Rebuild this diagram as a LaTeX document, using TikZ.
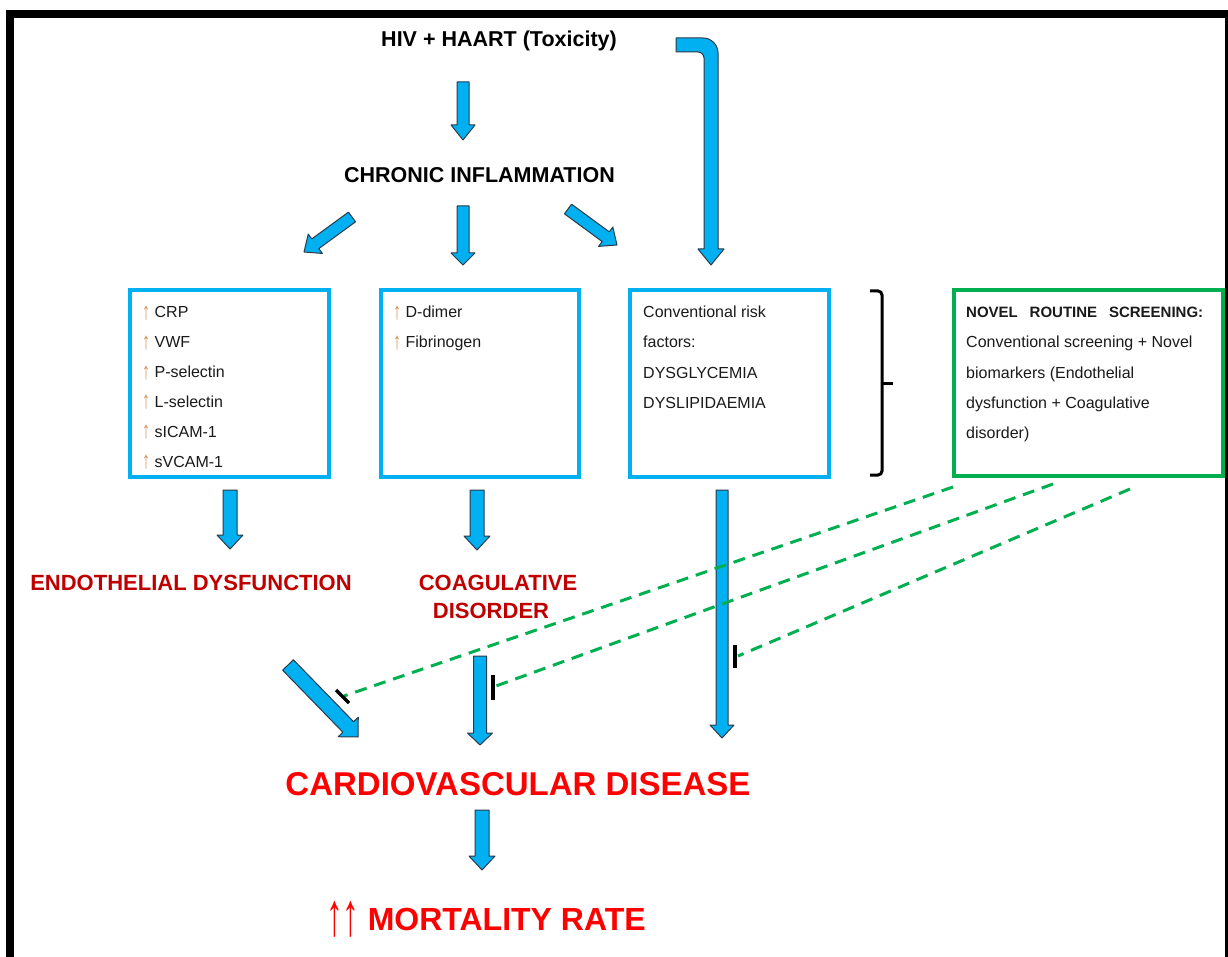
\documentclass[tikz,border=0pt]{standalone}
\usepackage{fontspec}
\setmainfont{Liberation Sans}
\usetikzlibrary{calc}
\definecolor{arrblue}{HTML}{00B0F0}
\definecolor{arredge}{HTML}{2B3A4A}
\definecolor{boxblue}{HTML}{00B0F0}
\definecolor{boxgreen}{HTML}{00B050}
\definecolor{darkred}{HTML}{C00000}
\definecolor{brightred}{HTML}{FF0000}
\definecolor{uparr}{HTML}{D98E4A}
\definecolor{txt}{HTML}{1A1A1A}
% block arrow: tail, tip, shaft half width, head half width, head length
\newcommand{\barw}[5]{%
  \coordinate (barwH) at ($(#2)!#5!(#1)$);
  \draw[blkarrow] ($(#1)!#3!90:(#2)$) -- ($(barwH)!#3!-90:(#1)$) -- ($(barwH)!#4!-90:(#1)$) -- (#2) -- ($(barwH)!#4!90:(#1)$) -- ($(barwH)!#3!90:(#1)$) -- ($(#1)!#3!-90:(#2)$) -- cycle;}
\newcommand{\uparw}{{\color{uparr}\raisebox{-1.5pt}{\scalebox{1}[1.5]{↑}}}}
\newcommand{\bigup}{\raisebox{-5pt}{\scalebox{1.05}[1.9]{↑}}}
\begin{document}
\begin{tikzpicture}[x=1pt,y=-1pt,
  blkarrow/.style={fill=arrblue,draw=arredge,line width=1pt,line join=round},
  bbox/.style={draw=boxblue,line width=4pt,outer sep=0pt,inner sep=0pt,anchor=north west},
  gbox/.style={draw=boxgreen,line width=4pt,outer sep=0pt,inner sep=0pt,anchor=north west},
  btxt/.style={anchor=base west,inner sep=0pt,text=txt,font=\fontsize{16}{19}\selectfont},
  head/.style={anchor=base,inner sep=0pt,text=black,font=\bfseries\fontsize{21.5}{24}\selectfont},
  redhead/.style={anchor=base,inner sep=0pt,text=darkred,font=\bfseries\fontsize{22}{28}\selectfont,align=center},
  inhib/.style={draw=boxgreen,line width=3pt,dash pattern=on 12pt off 8pt},
  stopbar/.style={draw=black,line width=3.5pt}]
\useasboundingbox (0,0) rectangle (1228,957);
\clip (0,0) rectangle (1228,957);
\fill[white] (0,0) rectangle (1228,957);
% frame
\draw[line width=8pt] (10,14) rectangle (1229,1000);

% headings
\node[head] (hiv) at (499,47) {HIV + HAART (Toxicity)};
\node[head] (chr) at (479.5,183) {CHRONIC INFLAMMATION};

% boxes
\node[bbox,minimum width=199pt,minimum height=187pt] (b1) at (130,290) {};
\node[bbox,minimum width=198pt,minimum height=187pt] (b2) at (381,290) {};
\node[bbox,minimum width=199pt,minimum height=187pt] (b3) at (630,290) {};
\node[gbox,minimum width=269pt,minimum height=186pt] (g) at (954,290) {};

% box texts
\foreach \t [count=\i] in {CRP,VWF,P-selectin,L-selectin,sICAM-1,sVCAM-1}
  \node[btxt] (b1l\i) at (142,{318+29.8*(\i-1)}) {\uparw\ \t};
\node[btxt] (b2l1) at (393,318) {\uparw\ D-dimer};
\node[btxt] (b2l2) at (393,348) {\uparw\ Fibrinogen};
\node[btxt] (b3l1) at (643,318) {Conventional risk};
\node[btxt] (b3l2) at (643,348) {factors:};
\node[btxt] (b3l3) at (643,378) {DYSGLYCEMIA};
\node[btxt] (b3l4) at (643,408) {DYSLIPIDAEMIA};
\node[btxt,font=\bfseries\fontsize{15}{18}\selectfont] (gl1) at (966,318) {\makebox[237pt][s]{NOVEL\hfill ROUTINE\hfill SCREENING:}};
\node[btxt] (gl2) at (966,348) {Conventional screening + Novel};
\node[btxt] (gl3) at (966,378) {biomarkers (Endothelial};
\node[btxt] (gl4) at (966,408) {dysfunction + Coagulative};
\node[btxt] (gl5) at (966,438) {disorder)};

% bracket
\draw[line width=3pt,rounded corners=4pt] (870,291) -| (882,383);
\draw[line width=3pt,rounded corners=4pt] (870,475) -| (882,383);
\draw[line width=3pt] (882,383) -- (893,383);

% red labels
\node[redhead] (endo) at (191,590) {ENDOTHELIAL DYSFUNCTION};
\node[redhead] (coag) at (498,590) {COAGULATIVE};
\node[redhead] (diso) at (491,618) {DISORDER};
\node[anchor=base,inner sep=0pt,text=brightred,font=\bfseries\fontsize{33}{36}\selectfont] (cvd) at (518,795) {CARDIOVASCULAR DISEASE};
\node[anchor=base,inner sep=0pt,text=brightred,font=\bfseries\fontsize{32}{34}\selectfont] (mort) at (486,930) {\bigup\hspace{-1pt}\bigup\ MORTALITY RATE};

% arrow coordinates
\coordinate (a1t) at (463,82);  \coordinate (a1h) at (463,140);
\coordinate (a2t) at (463,206); \coordinate (a2h) at (463,265);
\coordinate (a3t) at (352,217); \coordinate (a3h) at (304,252);
\coordinate (a4t) at (568,209); \coordinate (a4h) at (617,245);
\coordinate (a5t) at (230,490); \coordinate (a5h) at (230,549);
\coordinate (a6t) at (477,490); \coordinate (a6h) at (477,550);
\coordinate (a7t) at (722,490); \coordinate (a7h) at (722,738);
\coordinate (a8t) at (288,665); \coordinate (a8h) at (358,737);
\coordinate (a9t) at (480,656); \coordinate (a9h) at (480,745);
\coordinate (a10t) at (482,810); \coordinate (a10h) at (482,870);

\barw{a1t}{a1h}{6pt}{12pt}{15pt}
\barw{a2t}{a2h}{6pt}{12pt}{12pt}
\barw{a3t}{a3h}{6pt}{12pt}{14pt}
\barw{a4t}{a4h}{6pt}{12pt}{14pt}
\barw{a5t}{a5h}{7pt}{13pt}{14pt}
\barw{a6t}{a6h}{7pt}{13pt}{14pt}
\barw{a7t}{a7h}{6pt}{12pt}{13pt}
\barw{a8t}{a8h}{7.5pt}{14pt}{14pt}
\barw{a9t}{a9h}{6.5pt}{12.5pt}{12pt}
\barw{a10t}{a10h}{7pt}{13pt}{14pt}

% bent arrow
\draw[blkarrow] (676,38) -- (703,38) .. controls (711.3,38) and (718,44.7) .. (718,53) -- (718,249) -- (724,249) -- (711,265) -- (698,249) -- (704,249) -- (704,58) .. controls (704,54.7) and (701.3,52) .. (698,52) -- (676,52) -- cycle;

% inhibition dashed lines
\coordinate (g1s) at (953,487); \coordinate (g1e) at (344,696);
\coordinate (g2s) at (1053,484); \coordinate (g2e) at (496,686);
\coordinate (g3s) at (1130,489); \coordinate (g3e) at (738,656);
\draw[inhib] (g1s) -- (g1e);
\draw[inhib] (g2s) -- (g2e);
\draw[inhib] (g3s) -- (g3e);
\draw[stopbar] ($(g1e)+(-8,-6)$) -- ($(g1e)+(5,7)$);
\draw[stopbar] ($(g2e)+(-3,-11)$) -- ($(g2e)+(-3,14)$);
\draw[stopbar] ($(g3e)+(-3,-11)$) -- ($(g3e)+(-3,12)$);
\end{tikzpicture}
\end{document}
